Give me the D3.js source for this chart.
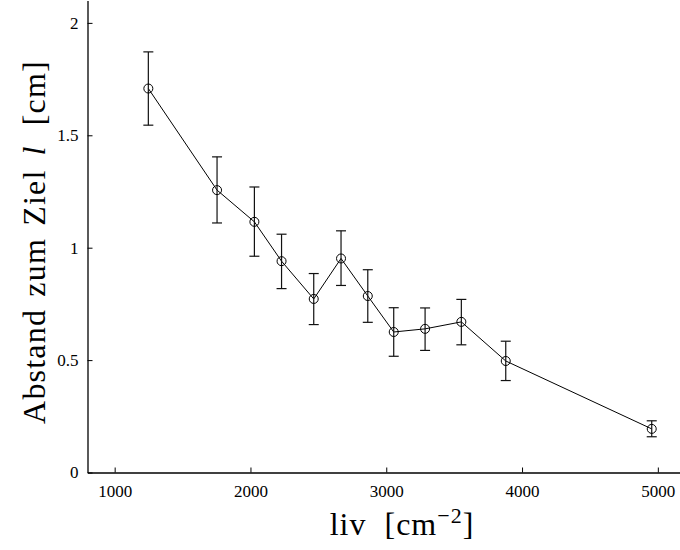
<!DOCTYPE html>
<html>
<head>
<meta charset="utf-8">
<script src="https://cdn.jsdelivr.net/npm/d3@7"></script>
<style>
  html, body { margin: 0; padding: 0; background: #fff; }
  svg { display: block; }
</style>
</head>
<body>
<svg id="chart" width="680" height="550"></svg>
<script>
// Data
const liv = [1248, 1754, 2029, 2229, 2466, 2667, 2864, 3055, 3286, 3553, 3880, 4955];
const abstand = [1.708, 1.256, 1.115, 0.940, 0.772, 0.952, 0.785, 0.625, 0.639, 0.670, 0.496, 0.194];
const errUpper = [0.163, 0.148, 0.155, 0.120, 0.113, 0.123, 0.117, 0.108, 0.093, 0.100, 0.088, 0.036];
const errLower = [0.163, 0.146, 0.153, 0.122, 0.114, 0.120, 0.117, 0.108, 0.096, 0.102, 0.087, 0.035];
const xTicks = [1000, 2000, 3000, 4000, 5000];
const yTicks = [0, 0.5, 1, 1.5, 2];
const yTickLabels = ["0", "0.5", "1", "1.5", "2"];

const svg = d3.select("#chart");
const x = d3.scaleLinear().domain([800, 5200]).range([87.5, 685]);
const y = d3.scaleLinear().domain([0, 2.1]).range([472.5, 0.4]);

const font = "'Liberation Serif', 'Times New Roman', serif";

// Axes
const xAxis = d3.axisBottom(x).tickValues(xTicks).tickSizeInner(-5).tickSizeOuter(0).tickPadding(12)
  .tickFormat(d3.format("d"));
const yAxis = d3.axisLeft(y).tickValues(yTicks).tickSizeInner(-5).tickSizeOuter(0).tickPadding(9)
  .tickFormat((d, i) => yTickLabels[i]);

const gx = svg.append("g").attr("transform", `translate(0,${y(0)})`).call(xAxis);
const gy = svg.append("g").attr("transform", `translate(${x(800)},0)`).call(yAxis);
[gx, gy].forEach(g => {
  g.select(".domain").attr("stroke", "#000").attr("stroke-width", 1.3);
  g.selectAll(".tick line").attr("stroke", "#000").attr("stroke-width", 1);
  g.selectAll(".tick text").attr("fill", "#000").style("font-family", font).style("font-size", "17px");
});

// Line
const line = d3.line().x((d, i) => x(liv[i])).y(d => y(d));
svg.append("path").datum(abstand).attr("d", line)
  .attr("fill", "none").attr("stroke", "#000").attr("stroke-width", 1);

// Error bars
const cap = 5;
const eb = svg.append("g").attr("stroke", "#111").attr("stroke-width", 1.2);
abstand.forEach((v, i) => {
  const cx = x(liv[i]);
  const yt = y(v + errUpper[i]);
  const yb = y(v - errLower[i]);
  eb.append("line").attr("x1", cx).attr("x2", cx).attr("y1", yt).attr("y2", yb);
  eb.append("line").attr("x1", cx - cap).attr("x2", cx + cap).attr("y1", yt).attr("y2", yt);
  eb.append("line").attr("x1", cx - cap).attr("x2", cx + cap).attr("y1", yb).attr("y2", yb);
});

// Markers
svg.append("g").selectAll("circle").data(abstand).join("circle")
  .attr("cx", (d, i) => x(liv[i])).attr("cy", d => y(d)).attr("r", 4.5)
  .attr("fill", "none").attr("stroke", "#000").attr("stroke-width", 1);

// X label
const xl = svg.append("text").attr("x", 402).attr("y", 535).attr("text-anchor", "middle")
  .style("font-family", font).style("font-size", "32px").style("letter-spacing", "1px").attr("fill", "#000");
xl.append("tspan").text("liv");
xl.append("tspan").attr("dx", 18).text("[cm");
xl.append("tspan").attr("dy", -12).style("font-size", "22px").text("−2");
xl.append("tspan").attr("dy", 12).text("]");

// Y label
const yl = svg.append("text").attr("transform", "translate(45,242) rotate(-90)").attr("text-anchor", "middle")
  .style("font-family", font).style("font-size", "32px").style("letter-spacing", "1.2px")
  .style("word-spacing", "3px").attr("fill", "#000");
yl.append("tspan").text("Abstand zum Ziel");
yl.append("tspan").attr("dx", 14).style("font-style", "italic").text("l");
yl.append("tspan").attr("dx", 20).text("[cm]");
</script>
</body>
</html>
